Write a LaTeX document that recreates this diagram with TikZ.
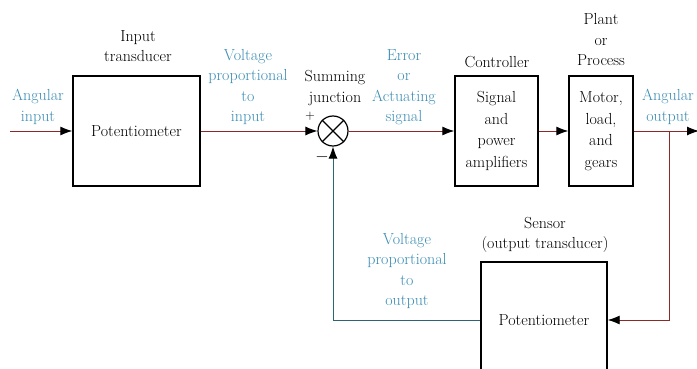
\documentclass[tikz,border=0pt]{standalone}
\usepackage{fontspec}
\usetikzlibrary{arrows.meta}
\definecolor{lblue}{RGB}{58,140,180}
\definecolor{fline}{RGB}{140,40,40}
\definecolor{bline}{RGB}{45,100,115}
\tikzset{
  blk/.style={draw=black,line width=1.4pt,rectangle,align=center,inner sep=0pt,minimum height=110pt,font=\fontsize{16}{21.5}\selectfont},
  lbl/.style={align=center,inner sep=0pt,font=\fontsize{16}{20.5}\selectfont},
  blbl/.style={lbl,text=lblue},
  sig/.style={draw=fline,line width=0.9pt,-{Latex[length=12pt,width=9pt,color=black]}},
  fb/.style={draw=bline,line width=0.9pt,-{Latex[length=12pt,width=9pt,color=black]}}
}
\begin{document}
\begin{tikzpicture}[x=1pt,y=-1pt]
\useasboundingbox (0,0) rectangle (697,369);
\clip (0,0) rectangle (697,369);
% blocks
\node[blk,minimum width=127pt] (ip) at (136.5,131) {Potentiometer};
\node[blk,minimum width=83pt] (ctrl) at (496.5,131) {Signal\\and\\power\\amplifiers};
\node[blk,minimum width=64pt] (plant) at (601,131) {Motor,\\load,\\and\\gears};
\node[blk,minimum width=126pt,minimum height=116pt] (sens) at (544,320) {Potentiometer};
\node[draw=black,line width=1.2pt,circle,minimum size=30pt,inner sep=0pt] (sum) at (333,131) {};
\draw[line width=1.1pt] (sum.north east) -- (sum.south west) (sum.north west) -- (sum.south east);
% coordinates
\coordinate (in) at (10,131);
\coordinate (out) at (699,131);
\coordinate (br) at (669,131);
% connectors
\draw[sig] (in) -- (ip.west);
\draw[sig] (ip.east) -- (sum.west);
\draw[sig] (sum.east) -- (ctrl.west);
\draw[sig] (ctrl.east) -- (plant.west);
\draw[sig] (plant.east) -- (out);
\draw[sig] (br) |- (sens.east);
\draw[fb] (sens.west) -| (sum.south);
% labels
\node[lbl] (lit) at (138,46) {Input\\transducer};
\node[blbl] (lai) at (38,107) {Angular\\input};
\node[blbl] (lvi) at (248,87) {Voltage\\proportional\\to\\input};
\node[lbl,font=\fontsize{13}{13}\selectfont] (lp) at (310,116) {+};
\node[lbl,font=\fontsize{16}{16}\selectfont] (lm) at (322,157) {$-$};
\node[lbl] (lsj) at (335,88) {Summing\\junction};
\node[blbl] (les) at (404,87) {Error\\or\\Actuating\\signal};
\node[lbl] (lc) at (497,62) {Controller};
\node[lbl] (lpp) at (601,40) {Plant\\or\\Process};
\node[blbl] (lao) at (668,107) {Angular\\output};
\node[lbl] (lsn) at (545,235) {Sensor\\(output transducer)};
\node[blbl] (lvo) at (407,271) {Voltage\\proportional\\to\\output};
\end{tikzpicture}
\end{document}
